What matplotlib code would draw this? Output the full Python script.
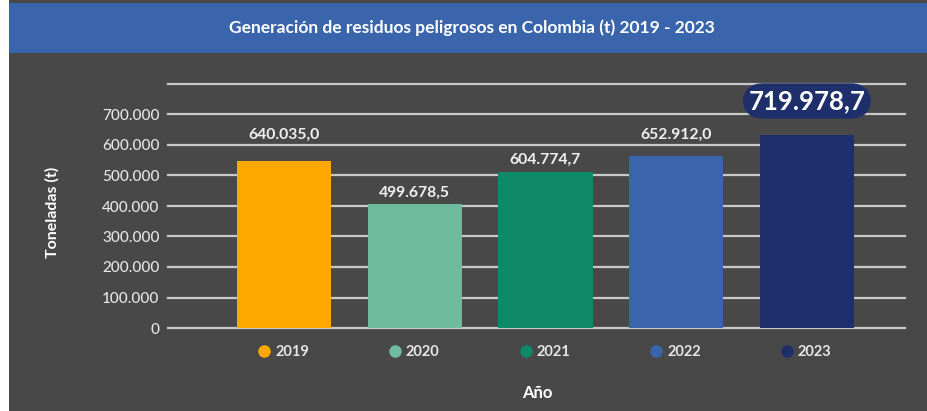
import matplotlib.pyplot as plt
from matplotlib.lines import Line2D
from matplotlib.patches import Rectangle

# data
years = ['2019', '2020', '2021', '2022', '2023']
bar_heights = [548500, 407500, 512500, 565000, 633000]
value_labels = ['640.035,0', '499.678,5', '604.774,7', '652.912,0', '719.978,7']
colors = ['#FFA800', '#6FBBA0', '#0F8A68', '#3A65AD', '#1F2F6B']
yticks = [0, 100000, 200000, 300000, 400000, 500000, 600000, 700000, 800000]
ytick_labels = ['0', '100.000', '200.000', '300.000', '400.000', '500.000', '600.000', '700.000', '']

# label gaps above the bars (pixels), as in the original
label_offsets = [26, 11, 12, 21, 34]

plt.rcParams['font.family'] = ['Lato', 'DejaVu Sans']

bg = '#484848'
W, H = 927, 411
fig = plt.figure(figsize=(W / 100, H / 100), dpi=100)
fig.patch.set_facecolor('white')

# dark panel and blue title band
fig.add_artist(Rectangle((9 / W, 0), 1 - 9 / W, 1, transform=fig.transFigure,
                         facecolor=bg, edgecolor='none', zorder=0))
fig.add_artist(Rectangle((9 / W, (H - 53) / H), 1 - 9 / W, 50 / H, transform=fig.transFigure,
                         facecolor='#3A65AD', edgecolor='none', zorder=0))
fig.text(472 / W, (H - 28) / H, 'Generación de residuos peligrosos en Colombia (t) 2019 - 2023',
         color='white', fontsize=12.5, fontweight='bold', ha='center', va='center')

ax = fig.add_axes([168 / W, (H - 328) / H, (905 - 168) / W, (328 - 84) / H])
ax.set_facecolor(bg)
ax.patch.set_alpha(0)

x = list(range(len(years)))
ax.bar(x, bar_heights, width=0.72, color=colors, zorder=3)

ax.set_xlim(-0.887, 4.75)
ax.set_ylim(0, 800000)
ax.set_yticks(yticks)
ax.set_yticklabels(ytick_labels)
ax.set_xticks([])
ax.tick_params(axis='y', length=0, pad=6, labelsize=11, labelcolor='#E6E6E6')
for lab in ax.get_yticklabels():
    lab.set_fontweight('medium')
ax.yaxis.grid(True, color='#C8C8C8', linewidth=1.6, zorder=1)
for gl in ax.get_ygridlines():
    gl.set_clip_on(False)
ax.set_axisbelow(True)
for s in ax.spines.values():
    s.set_visible(False)

for i, (h, lab, off) in enumerate(zip(bar_heights, value_labels, label_offsets)):
    if i == len(years) - 1:
        ax.annotate(lab, (i, h), xytext=(0, off), textcoords='offset pixels',
                    ha='center', va='center', color='white', fontsize=18.5, fontweight='bold',
                    bbox=dict(boxstyle='round,pad=0.22,rounding_size=0.8', facecolor='#1F2F6B',
                              edgecolor='none'), zorder=5)
    else:
        ax.annotate(lab, (i, h), xytext=(0, off), textcoords='offset pixels',
                    ha='center', va='center', color='#F0F0F0', fontsize=11.3, fontweight='bold')

fig.text(52 / W, (H - 212) / H, 'Toneladas (t)', rotation=90, color='white',
         fontsize=11.5, fontweight='bold', ha='center', va='center')
fig.text(537 / W, (H - 393) / H, 'Año', color='white', fontsize=12,
         fontweight='bold', ha='center', va='center')

handles = [Line2D([], [], marker='o', linestyle='none', markersize=9,
                  markerfacecolor=c, markeredgecolor='none') for c in colors]
leg = fig.legend(handles, years, ncol=5, loc='center', bbox_to_anchor=(545 / W, (H - 352) / H),
                 frameon=False, fontsize=10.5, handlelength=0.8, handletextpad=0.35,
                 columnspacing=5.5, labelcolor='#E6E6E6')
for t in leg.get_texts():
    t.set_fontweight('bold')

fig.savefig('out.png', dpi=100, facecolor=fig.get_facecolor())
